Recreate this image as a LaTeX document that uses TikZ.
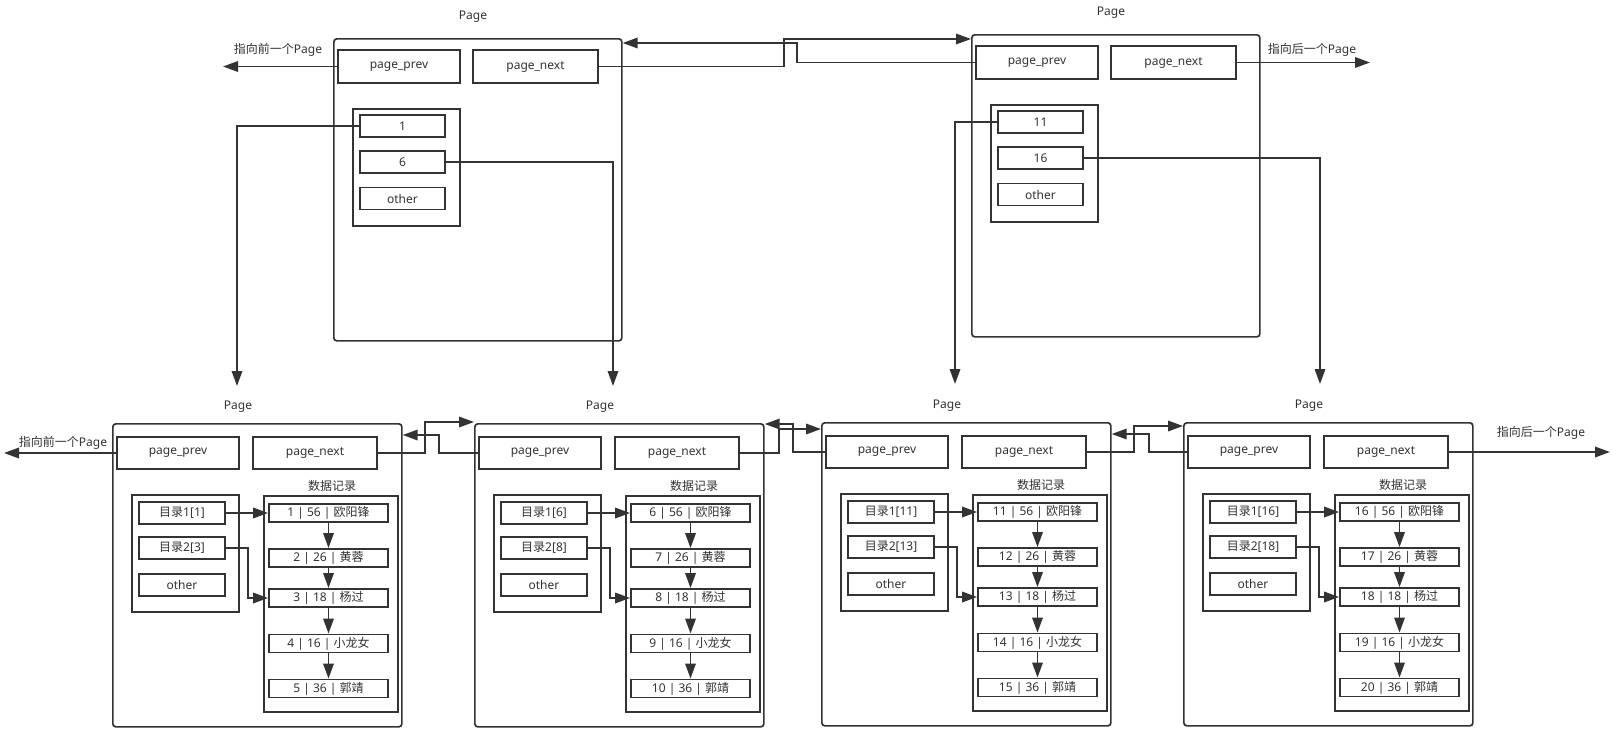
\documentclass[tikz,border=0pt]{standalone}
\usepackage{fontspec}
\setmainfont{Noto Sans}
\newfontfamily\cjk{Noto Sans CJK SC}
\usetikzlibrary{arrows.meta}
\definecolor{ink}{HTML}{333333}
\tikzset{
  box/.style={draw=ink, line width=1.9pt, inner sep=0pt, text=ink, font=\fontsize{12}{14}\selectfont},
  pagebox/.style={draw=ink, line width=1.7pt, rounded corners=3pt, inner sep=0pt},
  conn/.style={draw=ink, line width=1.8pt, -{Triangle[length=15pt,width=10.5pt]}},
  lbl/.style={text=ink, font=\fontsize{12}{14}\selectfont, inner sep=0pt},
}
% bottom page: #1 name, #2 x0, #3 y0, #4 first record / dir1, #5 dir2
\newcommand{\bpage}[5]{%
\begin{scope}[shift={(#2,#3)}]
  \node[pagebox, minimum width=289pt, minimum height=303pt, anchor=north west] (#1) at (0,0) {};
  \node[lbl] (#1lab) at (126,-16) {Page};
  \node[box, minimum width=122pt, minimum height=32pt] (#1prev) at (66,30) {page\_prev};
  \node[box, minimum width=124pt, minimum height=32pt] (#1next) at (203,30) {page\_next};
  \node[lbl] (#1dl) at (220,63) {\cjk 数据记录};
  \node[box, minimum width=107pt, minimum height=117pt] (#1idx) at (73.5,130.5) {};
  \node[box, minimum width=86pt, minimum height=22pt] (#1ia) at (70,90) {{\cjk 目录}1[#4]};
  \node[box, minimum width=86pt, minimum height=22pt] (#1ib) at (70,125) {{\cjk 目录}2[#5]};
  \node[box, minimum width=86pt, minimum height=22pt] (#1io) at (70,162) {other};
  \node[box, minimum width=134pt, minimum height=216pt] (#1data) at (219,181) {};
  \foreach \k/\age/\nm/\yy in {0/56/欧阳锋/90, 1/26/黄蓉/135, 2/18/杨过/175, 3/16/小龙女/220.5, 4/36/郭靖/265.5}{
    \pgfmathtruncatemacro\num{#4+\k}
    \node[box, minimum width=119pt, minimum height=18pt] (#1r\k) at (216.5,\yy) {\num\ | \age\ | {\cjk \nm}};
  }
  \foreach \a/\b in {0/1,1/2,2/3,3/4}{
    \draw[conn] (#1r\a.south) -- (#1r\b.north);
  }
  \draw[conn] (#1ia.east) -- (#1r0.west);
  \draw[conn] (#1ib.east) -- ++(22,0) |- (#1r2.west);
\end{scope}}
% top page: #1 name, #2 x0, #3 y0, #4 key1, #5 key2
\newcommand{\tpage}[5]{%
\begin{scope}[shift={(#2,#3)}]
  \node[pagebox, minimum width=288pt, minimum height=302pt, anchor=north west] (#1) at (0,0) {};
  \node[lbl] (#1lab) at (140,-21) {Page};
  \node[box, minimum width=122pt, minimum height=33pt] (#1prev) at (66,28.5) {page\_prev};
  \node[box, minimum width=125pt, minimum height=33pt] (#1next) at (202.5,28.5) {page\_next};
  \node[box, minimum width=107pt, minimum height=117pt] (#1idx) at (73.5,129.5) {};
  \node[box, minimum width=85pt, minimum height=22pt] (#1ka) at (69.5,88) {#4};
  \node[box, minimum width=85pt, minimum height=22pt] (#1kb) at (69.5,124) {#5};
  \node[box, minimum width=85pt, minimum height=22pt] (#1ko) at (69.5,160.5) {other};
\end{scope}}

\begin{document}
\begin{tikzpicture}[x=1pt,y=-1pt]
\useasboundingbox (0,0) rectangle (1617,739);
\fill[white] (0,0) rectangle (1617,739);

% top pages
\tpage{A}{333}{38}{1}{6}
\tpage{B}{971}{34}{11}{16}

% bottom pages
\bpage{P}{112}{423}{1}{3}
\bpage{Q}{474}{423}{6}{8}
\bpage{R}{821}{422}{11}{13}
\bpage{S}{1183}{422}{16}{18}

% free ends
\coordinate (Aout) at (223,66.5);
\coordinate (Bout) at (1370,62.5);
\coordinate (Pout) at (4,453);
\coordinate (Sout) at (1610,452);
\coordinate (d1) at (237,386);
\coordinate (d2) at (613,386);
\coordinate (d3) at (955,384);
\coordinate (d4) at (1320,384);

% outer labels
\node[lbl] (Atxt) at (278,50) {{\cjk 指向前一个}Page};
\node[lbl] (Btxt) at (1312,50) {{\cjk 指向后一个}Page};
\node[lbl] (Ptxt) at (63,443) {{\cjk 指向前一个}Page};
\node[lbl] (Stxt) at (1541,433) {{\cjk 指向后一个}Page};

% top connectors
\draw[conn] (Aprev.west) -- (Aout);
\draw[conn] (Bnext.east) -- (Bout);
\draw[conn] (Anext.east) -| (784,39) -- (B.north west |- 0,39);
\draw[conn] (Bprev.west) -| (797,43) -- (A.north east |- 0,43);
\draw[conn] (Aka.west) -| (d1);
\draw[conn] (Akb.east) -| (d2);
\draw[conn] (Bka.west) -| (d3);
\draw[conn] (Bkb.east) -| (d4);

% bottom connectors
\draw[conn] (Pprev.west) -- (Pout);
\draw[conn] (Snext.east) -- (Sout);
\draw[conn] (Pnext.east) -| (425,422) -- (Q.north west |- 0,422);
\draw[conn] (Qprev.west) -| (439,435) -- (P.north east |- 0,435);
\draw[conn] (Qnext.east) -| (779,429) -- (R.north west |- 0,429);
\draw[conn] (Rprev.west) -| (793,424) -- (Q.north east |- 0,424);
\draw[conn] (Rnext.east) -| (1134,426) -- (S.north west |- 0,426);
\draw[conn] (Sprev.west) -| (1149,434) -- (R.north east |- 0,434);
\end{tikzpicture}
\end{document}
